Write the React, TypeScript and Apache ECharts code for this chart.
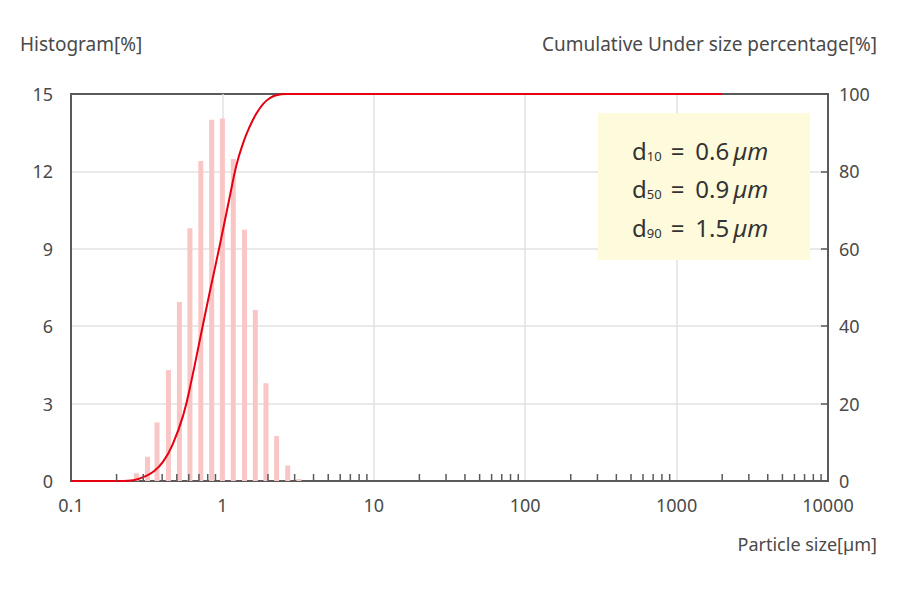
import * as echarts from "echarts";
import { useEffect, useRef } from "react";

// 粒度分布: ヒストグラム(左軸 %) と 積算ふるい下 (右軸 %)
const BIN_SIZES = [0.27, 0.32, 0.37, 0.44, 0.52, 0.61, 0.72, 0.85, 1.0, 1.18, 1.4, 1.65, 1.94, 2.28, 2.7, 3.2];
const BIN_PERCENT = [0.3, 0.94, 2.27, 4.3, 6.94, 9.8, 12.4, 14.0, 14.05, 12.48, 9.74, 6.63, 3.79, 1.74, 0.6, 0.08];

const CUM_SIZES = [0.1, 0.22, 0.258, 0.3, 0.349, 0.406, 0.473, 0.551, 0.625, 0.71, 0.826, 0.962, 1.119, 1.24, 1.37, 1.516, 1.68, 1.855, 2.05, 2.27, 2.65, 3.5, 2000];
const CUM_PERCENT = [0, 0, 0.2, 1.0, 2.4, 5.0, 9.8, 17.0, 26, 36.5, 48.9, 61, 73.5, 81.7, 87.3, 91.6, 95, 97.4, 98.9, 99.7, 100, 100, 100];

const X_TICK_LABELS = ["0.1", "1", "10", "100", "1000", "10000"];
const DECADES = [0.1, 1, 10, 100, 1000];
const MINOR_STEPS = [2, 3, 4, 5, 6, 7, 8, 9];

const D_LABELS = ["10", "50", "90"];
const D_VALUES = ["0.6", "0.9", "1.5"];

const FONT = '"Noto Sans", sans-serif';
const AXIS_COLOR = "#5a5a5a";
const LABEL_COLOR = "#4a4a4a";
const GRID_COLOR = "#e2e2e2";

export default function App() {
  const box = useRef<HTMLDivElement>(null);

  useEffect(() => {
    document.body.style.margin = "0";
    if (!box.current) return;
    const c = echarts.init(box.current, undefined, { renderer: "svg" });

    const minorTicks: number[][] = [];
    DECADES.forEach((d) => MINOR_STEPS.forEach((s) => minorTicks.push([d * s, 0])));

    const richBase = { fontSize: 24, fontFamily: FONT, fill: "#333", lineHeight: 28, verticalAlign: "bottom" };

    c.setOption({
      animation: false,
      textStyle: { fontFamily: FONT },
      grid: {
        left: 71,
        right: 72,
        top: 94,
        bottom: 109,
        show: true,
        borderColor: AXIS_COLOR,
        borderWidth: 2,
        backgroundColor: "transparent",
      },
      xAxis: {
        type: "log",
        logBase: 10,
        min: 0.1,
        max: 10000,
        axisLine: { show: true, lineStyle: { color: AXIS_COLOR, width: 2 } },
        axisTick: { show: false },
        axisLabel: {
          color: LABEL_COLOR,
          fontSize: 18,
          margin: 15,
          fontFamily: FONT,
          formatter: (v: number) => X_TICK_LABELS[Math.round(Math.log10(v)) + 1] ?? "",
        },
        splitLine: { show: true, showMinLine: false, showMaxLine: false, lineStyle: { color: GRID_COLOR, width: 1.5 } },
      },
      yAxis: [
        {
          type: "value",
          min: 0,
          max: 15,
          interval: 3,
          axisLine: { show: true, lineStyle: { color: AXIS_COLOR, width: 2 } },
          axisTick: { show: false },
          axisLabel: { color: LABEL_COLOR, fontSize: 18, margin: 18, fontFamily: FONT },
          splitLine: { show: true, showMinLine: false, showMaxLine: false, lineStyle: { color: GRID_COLOR, width: 1.5 } },
        },
        {
          type: "value",
          min: 0,
          max: 100,
          interval: 20,
          position: "right",
          axisLine: { show: true, lineStyle: { color: AXIS_COLOR, width: 2 } },
          axisTick: { show: true, inside: true, length: 7, lineStyle: { color: AXIS_COLOR, width: 1.5 } },
          axisLabel: { color: LABEL_COLOR, fontSize: 18, margin: 11, fontFamily: FONT },
          splitLine: { show: false },
        },
      ],
      series: [
        {
          type: "custom",
          z: 2,
          xAxisIndex: 0,
          yAxisIndex: 0,
          encode: { x: 0, y: 1 },
          data: BIN_SIZES.map((s, i) => [s, BIN_PERCENT[i]]),
          renderItem: (_p: unknown, api: any) => {
            const top = api.coord([api.value(0), api.value(1)]);
            const base = api.coord([api.value(0), 0]);
            return {
              type: "rect",
              shape: { x: top[0] - 2.5, y: top[1], width: 5, height: base[1] - top[1] },
              style: { fill: "#f9c6c6" },
            };
          },
        },
        {
          type: "line",
          z: 3,
          yAxisIndex: 1,
          data: CUM_SIZES.map((s, i) => [s, CUM_PERCENT[i]]),
          smooth: 0.5,
          showSymbol: false,
          lineStyle: { color: "#e60012", width: 2 },
          itemStyle: { color: "#e60012" },
        },
        {
          type: "custom",
          z: 4,
          xAxisIndex: 0,
          yAxisIndex: 0,
          encode: { x: 0, y: 1 },
          data: minorTicks,
          renderItem: (_p: unknown, api: any) => {
            const p = api.coord([api.value(0), 0]);
            return {
              type: "line",
              shape: { x1: p[0], y1: p[1], x2: p[0], y2: p[1] - 7 },
              style: { stroke: AXIS_COLOR, lineWidth: 1.5 },
            };
          },
        },
      ],
      graphic: [
        {
          type: "text",
          left: 20,
          top: 34,
          style: { text: "Histogram[%]", fill: LABEL_COLOR, font: `19px ${FONT}` },
        },
        {
          type: "text",
          right: 23,
          top: 34,
          style: { text: "Cumulative Under size percentage[%]", fill: LABEL_COLOR, font: `19px ${FONT}` },
        },
        {
          type: "text",
          right: 23,
          top: 535,
          style: { text: "Particle size[µm]", fill: LABEL_COLOR, font: `18px ${FONT}` },
        },
        {
          type: "rect",
          shape: { x: 598, y: 113, width: 212, height: 147 },
          style: { fill: "#fefbdc" },
          z: 10,
        },
        ...D_LABELS.map((d, i) => ({
          type: "text",
          x: 632,
          y: 148 + i * 38.5,
          z: 11,
          style: {
            text: `{d|d}{s|${d}}{e|=}{v|${D_VALUES[i]}}{u|µm}`,
            verticalAlign: "middle",
            rich: {
              d: richBase,
              s: { ...richBase, fontSize: 13, lineHeight: 19 },
              e: { ...richBase, padding: [0, 11, 0, 9] },
              v: richBase,
              u: { ...richBase, fontStyle: "italic", padding: [0, 0, 0, 4] },
            },
          },
        })),
      ],
    });

    const resize = () => c.resize();
    window.addEventListener("resize", resize);
    return () => {
      window.removeEventListener("resize", resize);
      c.dispose();
    };
  }, []);

  return <div ref={box} style={{ width: 900, height: 590 }} />;
}
